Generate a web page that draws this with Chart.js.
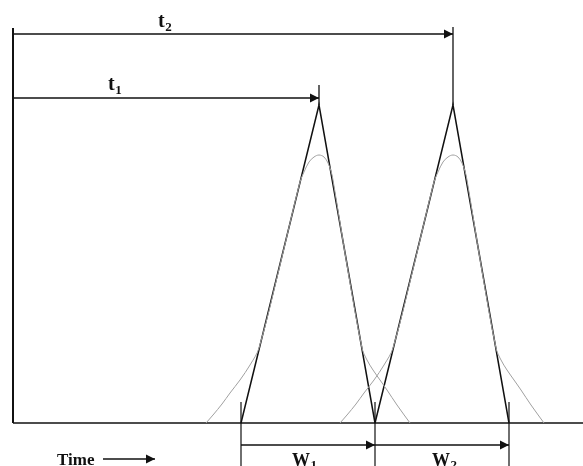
<!DOCTYPE html>
<html>
<head>
<meta charset="utf-8">
<script src="https://cdn.jsdelivr.net/npm/chart.js@4"></script>
<style>
  html, body { margin: 0; padding: 0; background: #fff; }
  #wrap { width: 583px; height: 466px; }
</style>
</head>
<body>
<div id="wrap"><canvas id="c" width="583" height="466"></canvas></div>
<script>
// ---- data (time units along x, signal units along y; baseline = 0) ----
const peakStarts   = [228, 362];      // tangent lines meet baseline (left)
const retentionT   = [306, 440];      // t1, t2 (apex times)
const peakEnds     = [362, 496];      // tangent lines meet baseline (right)
const apexHeights  = [318, 318];      // triangle apex height
const markerTops   = [338, 396];      // vertical marker above each apex
const tArrowLevels = [325, 389];      // height of t1, t2 arrows
const tLabels      = ['t', 't'];
const tSubs        = ['1', '2'];
const wLabels      = ['W', 'W'];
const wSubs        = ['1', '2'];
const axisTop      = 395;
const axisEnd      = 570;
const wArrowLevel  = -22;
const baseTickTop  = 21;
const bottomEdge   = -43;

// Gaussian peak outlines
const gauss1X = [193,200,209,217,227,237,246,267,287,291,296,301,306,311,315,318,320,334,349,354,360,367,374,384,397];
const gauss1Y = [0,8,19,30,43,58,75,158,241,251,261,266,268,266,260,252,243,158,75,63,53,43,33,18,0];
const gauss2X = [327,334,343,351,361,371,380,401,421,425,430,435,440,445,449,452,454,468,483,488,494,501,508,518,531];
const gauss2Y = [0,8,19,30,43,58,75,158,241,251,261,266,268,266,260,252,243,158,75,63,53,43,33,18,0];

// ---- build datasets ----
const zip = (xs, ys) => xs.map((x, i) => ({x, y: ys[i]}));
const black = '#111';
const gray = '#a0a0a0';
const ds = [];
function line(data, opts) {
  ds.push(Object.assign({
    type: 'line', data, showLine: true, pointRadius: 0, borderColor: black,
    borderWidth: 1.5, fill: false, tension: 0, clip: false
  }, opts || {}));
}
line(zip(gauss1X, gauss1Y), {borderColor: gray, borderWidth: 1, tension: 0.35});
line(zip(gauss2X, gauss2Y), {borderColor: gray, borderWidth: 1, tension: 0.35});
// axes
line([{x: 0, y: axisTop}, {x: 0, y: 0}], {borderWidth: 2});
line([{x: 0, y: 0}, {x: axisEnd, y: 0}], {borderWidth: 1.5});
// triangles, markers, t arrows
for (let i = 0; i < 2; i++) {
  line([{x: peakStarts[i], y: 0}, {x: retentionT[i], y: apexHeights[i]}, {x: peakEnds[i], y: 0}]);
  line([{x: retentionT[i], y: apexHeights[i]}, {x: retentionT[i], y: markerTops[i]}], {borderWidth: 1.3});
  line([{x: 0, y: tArrowLevels[i]}, {x: retentionT[i], y: tArrowLevels[i]}], {arrow: true, borderWidth: 1.3});
  line([{x: peakStarts[i], y: wArrowLevel}, {x: peakEnds[i], y: wArrowLevel}], {arrow: true, borderWidth: 1.5});
}
// base ticks
[peakStarts[0], peakEnds[0], peakEnds[1]].forEach(x => {
  line([{x, y: baseTickTop}, {x, y: bottomEdge}], {borderWidth: 1.2});
});
// time arrow
line([{x: 90, y: -36}, {x: 142, y: -36}], {arrow: true, borderWidth: 1.3});

// ---- plugin: arrowheads + text ----
const deco = {
  id: 'deco',
  afterDatasetsDraw(chart) {
    const ctx = chart.ctx;
    const xs = chart.scales.x, ys = chart.scales.y;
    ctx.save();
    chart.data.datasets.forEach(d => {
      if (!d.arrow) return;
      const n = d.data.length;
      const p1 = d.data[n - 2], p2 = d.data[n - 1];
      const x1 = xs.getPixelForValue(p1.x), y1 = ys.getPixelForValue(p1.y);
      const x2 = xs.getPixelForValue(p2.x), y2 = ys.getPixelForValue(p2.y);
      const a = Math.atan2(y2 - y1, x2 - x1);
      const L = 9, W = 4.5;
      ctx.beginPath();
      ctx.moveTo(x2, y2);
      ctx.lineTo(x2 - L * Math.cos(a) + W * Math.sin(a), y2 - L * Math.sin(a) - W * Math.cos(a));
      ctx.lineTo(x2 - L * Math.cos(a) - W * Math.sin(a), y2 - L * Math.sin(a) + W * Math.cos(a));
      ctx.closePath();
      ctx.fillStyle = black;
      ctx.fill();
    });
    ctx.fillStyle = black;
    ctx.textBaseline = 'alphabetic';
    function sub(main, s, x, y, big, small, drop) {
      const px = xs.getPixelForValue(x), py = ys.getPixelForValue(y);
      ctx.font = 'bold ' + big + 'px "Liberation Serif", "DejaVu Serif", serif';
      ctx.fillText(main, px, py);
      const w = ctx.measureText(main).width;
      ctx.font = 'bold ' + small + 'px "Liberation Serif", "DejaVu Serif", serif';
      ctx.fillText(s, px + w + 0.5, py + drop);
    }
    sub(tLabels[0], tSubs[0], 95, 333, 20, 13, 4);
    sub(tLabels[1], tSubs[1], 145, 396, 20, 13, 4);
    sub(wLabels[0], wSubs[0], 279, -43, 18, 13, 3);
    sub(wLabels[1], wSubs[1], 419, -43, 18, 13, 3);
    ctx.font = 'bold 17px "Liberation Serif", "DejaVu Serif", serif';
    ctx.fillText('Time', xs.getPixelForValue(44), ys.getPixelForValue(-42));
    ctx.restore();
  }
};

new Chart(document.getElementById('c'), {
  type: 'scatter',
  data: { datasets: ds },
  options: {
    responsive: false,
    animation: false,
    events: [],
    layout: { padding: 0 },
    plugins: { legend: { display: false }, tooltip: { enabled: false }, title: { display: false } },
    scales: {
      x: { type: 'linear', display: false, min: -13, max: 570 },
      y: { type: 'linear', display: false, min: -43, max: 423 }
    }
  },
  plugins: [deco]
});
</script>
</body>
</html>
